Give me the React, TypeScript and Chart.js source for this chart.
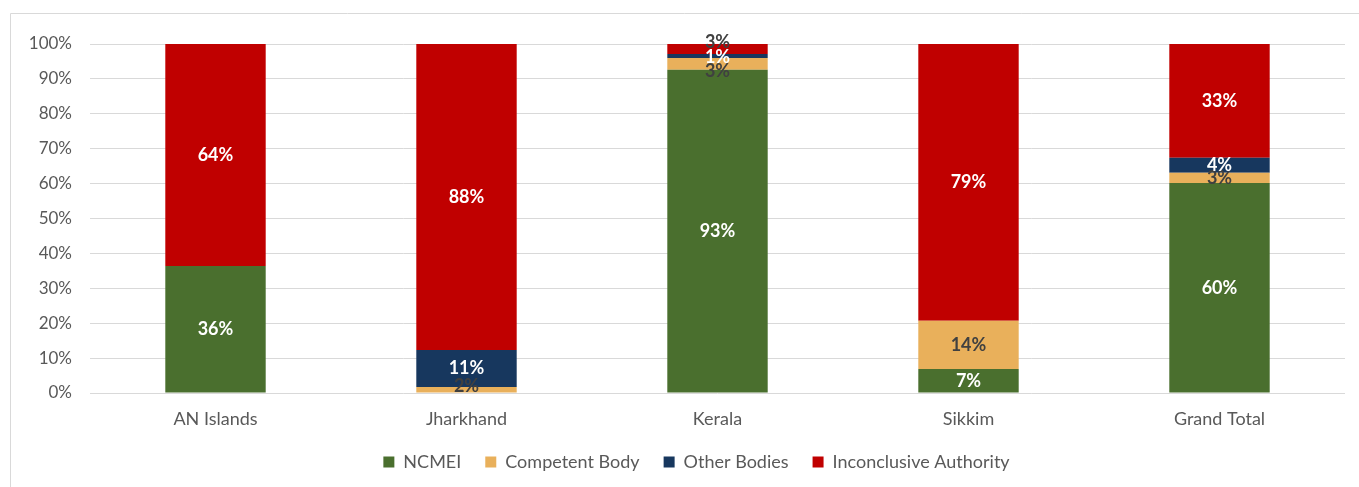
import React, { useEffect, useRef } from "react";
import { Chart, registerables } from "chart.js";

Chart.register(...registerables);

const categories = ["AN Islands", "Jharkhand", "Kerala", "Sikkim", "Grand Total"];
const seriesNames = ["NCMEI", "Competent Body", "Other Bodies", "Inconclusive Authority"];
const ncmei = [36.4, 0, 92.6, 6.9, 60.2];
const competentBody = [0, 1.7, 3.4, 13.8, 2.9];
const otherBodies = [0, 10.6, 1.1, 0, 4.3];
const inconclusive = [63.6, 87.7, 2.9, 79.3, 32.6];
const yTicks = [0, 10, 20, 30, 40, 50, 60, 70, 80, 90, 100];

const colors = ["#4a6f2e", "#e9b05b", "#17375e", "#c00000"];
const labelColors = ["#ffffff", "#404040", "#ffffff", "#ffffff"];
const FONT = "Lato, 'Open Sans', sans-serif";

const labelPlugin = {
  id: "segLabels",
  afterDatasetsDraw(chart: any, _args: any, opts: any) {
    const ctx = chart.ctx;
    ctx.save();
    ctx.font = `bold 18px ${FONT}`;
    ctx.textAlign = "center";
    ctx.textBaseline = "middle";
    chart.data.datasets.forEach((ds: any, di: number) => {
      const meta = chart.getDatasetMeta(di);
      meta.data.forEach((bar: any, i: number) => {
        const v = ds.data[i];
        if (!v) return;
        const key = `${di}-${i}`;
        const off = (opts.offsets && opts.offsets[key]) || 0;
        const col = (opts.colorOverride && opts.colorOverride[key]) || labelColors[di];
        ctx.fillStyle = col;
        const y = (bar.y + bar.base) / 2 + off;
        ctx.fillText(Math.round(v) + "%", bar.x, y);
      });
    });
    ctx.restore();
  },
};

const borderPlugin = {
  id: "frame",
  beforeDraw(chart: any) {
    const ctx = chart.ctx;
    ctx.save();
    ctx.strokeStyle = "#d9d9d9";
    ctx.lineWidth = 1;
    ctx.beginPath();
    ctx.moveTo(10.5, chart.height);
    ctx.lineTo(10.5, 13.5);
    ctx.lineTo(chart.width, 13.5);
    ctx.stroke();
    ctx.restore();
  },
};

const legendShift = {
  id: "legendShift",
  afterLayout(chart: any) {
    const lg = chart.legend;
    if (lg) {
      lg.left += 24;
      lg.right += 24;
    }
  },
};

export default function App() {
  const ref = useRef<HTMLCanvasElement>(null);
  useEffect(() => {
    if (!ref.current) return;
    const data = [ncmei, competentBody, otherBodies, inconclusive];
    const chart = new Chart(ref.current, {
      type: "bar",
      data: {
        labels: categories,
        datasets: seriesNames.map((name, i) => ({
          label: name,
          data: data[i],
          backgroundColor: colors[i],
          borderWidth: 0,
          barPercentage: 0.4,
          categoryPercentage: 1,
        })),
      },
      options: {
        animation: false,
        responsive: false,
        maintainAspectRatio: false,
        layout: { padding: { left: 0, right: 14, top: 44, bottom: 6 } },
        scales: {
          x: {
            stacked: true,
            afterFit: (s: any) => { s.height = 36; },
            grid: { display: false, drawTicks: false },
            border: { display: false },
            ticks: { color: "#595959", font: { family: FONT, size: 18 }, padding: 15 },
          },
          y: {
            stacked: true,
            min: 0,
            max: 100,
            afterFit: (s: any) => { s.width = 90; },
            afterBuildTicks: (s: any) => { s.ticks = yTicks.map((v) => ({ value: v })); },
            grid: { color: "#d9d9d9", drawTicks: false },
            border: { display: false },
            ticks: {
              color: "#595959",
              font: { family: FONT, size: 17 },
              padding: 18,
              callback: (v: any) => v + "%",
            },
          },
        },
        plugins: {
          legend: {
            position: "bottom",
            labels: {
              boxWidth: 11,
              boxHeight: 11,
              color: "#595959",
              font: { family: FONT, size: 18 },
              padding: 24,
            },
          },
          tooltip: { enabled: false },
          segLabels: {
            offsets: { "1-2": 7, "2-2": 1, "3-2": -7, "1-1": -4 },
            colorOverride: { "3-2": "#404040" },
          },
        } as any,
      },
      plugins: [labelPlugin, borderPlugin, legendShift],
    });
    return () => chart.destroy();
  }, []);
  return (
    <div style={{ position: "absolute", left: 0, top: 0, width: 1359, height: 487, background: "#fff" }}>
      <canvas ref={ref} width={1359} height={487} style={{ width: 1359, height: 487 }} />
    </div>
  );
}
